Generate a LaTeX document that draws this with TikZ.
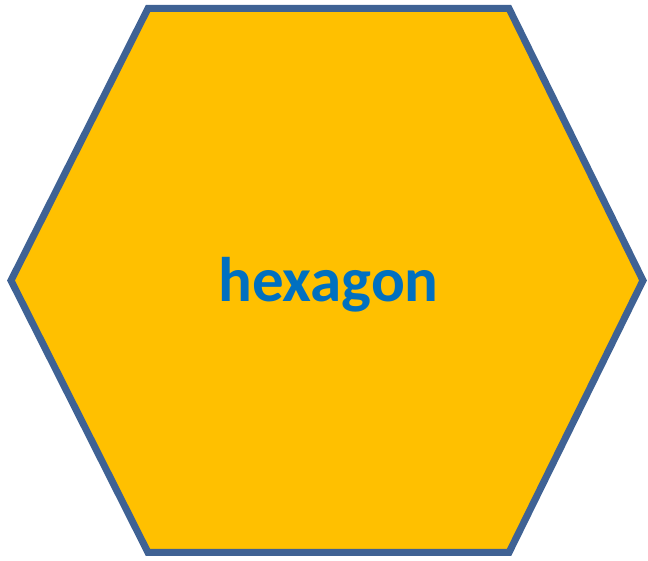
\documentclass[tikz,border=0pt]{standalone}
\usepackage{fontspec}
\setmainfont{Carlito}
\definecolor{hexfill}{HTML}{FFC000}
\definecolor{hexline}{HTML}{3F6294}
\definecolor{hextext}{HTML}{0070C0}
\begin{document}
\begin{tikzpicture}[x=1pt,y=1pt,
  hexstyle/.style={fill=hexfill,draw=hexline,line width=7pt,line join=miter},
  hexlabel/.style={text=hextext,font=\fontsize{63}{75}\selectfont\bfseries,inner sep=0pt,anchor=base}]
\useasboundingbox (0,0) rectangle (648,561);
\coordinate (v1) at (148,552.5);
\coordinate (v2) at (509,552.5);
\coordinate (v3) at (643,280.5);
\coordinate (v4) at (509,8.5);
\coordinate (v5) at (148,8.5);
\coordinate (v6) at (11,280.5);
\draw[hexstyle] (v1) -- (v2) -- (v3) -- (v4) -- (v5) -- (v6) -- cycle;
\node[hexlabel] (lbl) at (328.5,259) {hexagon};
\end{tikzpicture}
\end{document}
